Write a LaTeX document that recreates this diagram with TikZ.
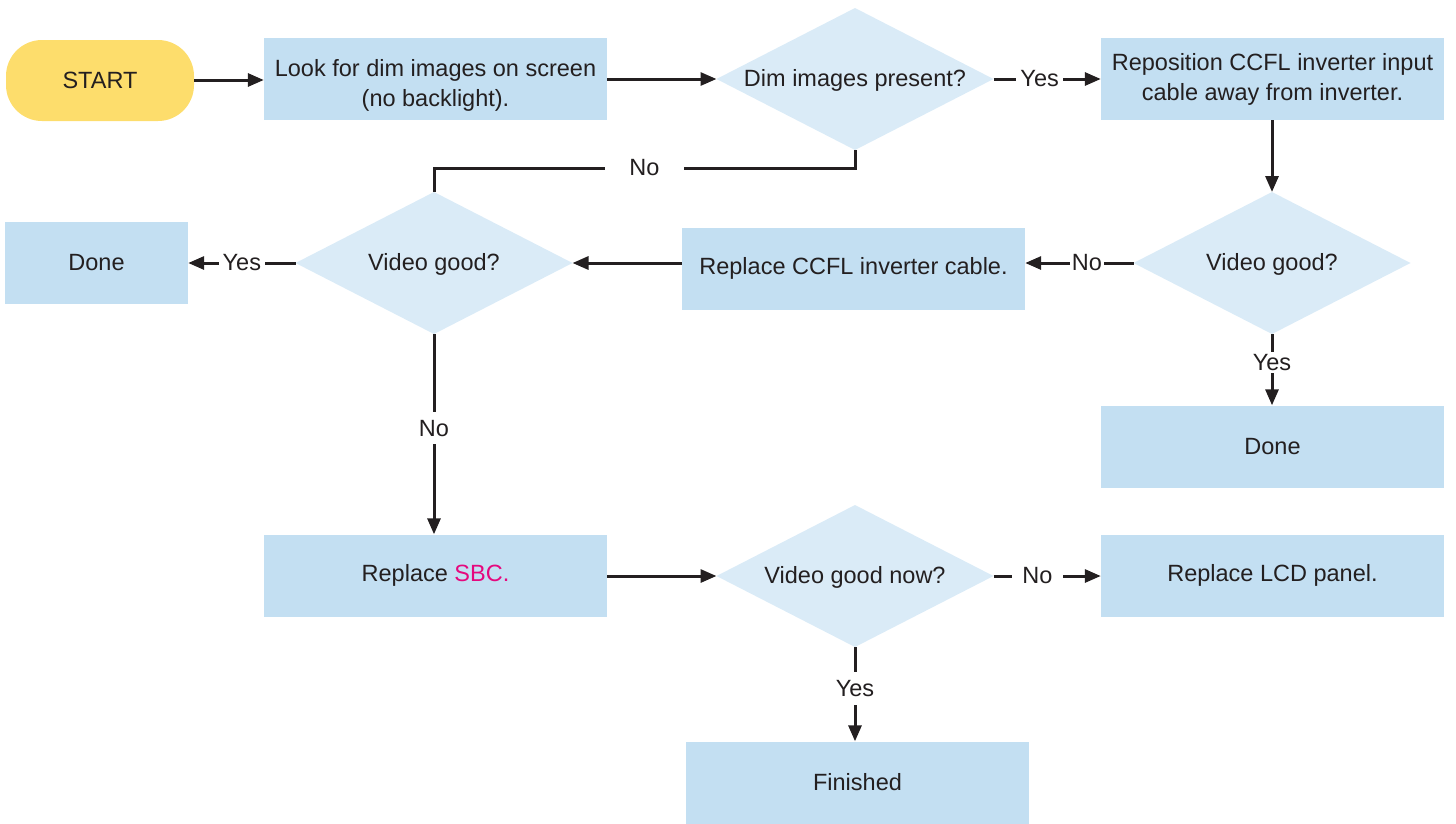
\documentclass[tikz,border=0pt]{standalone}
\usepackage{fontspec}
\setmainfont{Liberation Sans}
\usetikzlibrary{arrows.meta}
\definecolor{boxfill}{HTML}{C3DFF2}
\definecolor{diafill}{HTML}{DAEBF7}
\definecolor{startfill}{HTML}{FDDD6C}
\definecolor{ink}{HTML}{231F20}
\definecolor{sbc}{HTML}{E5087E}
\tikzset{
  txt/.style={font=\fontsize{23.5}{30}\selectfont, text=ink},
  stepbox/.style={txt, fill=boxfill, minimum width=343pt, minimum height=82pt, inner sep=0pt, align=center},
  startbox/.style={txt, fill=startfill, minimum width=188pt, minimum height=81pt, rounded corners=36pt, inner sep=0pt},
  diatext/.style={txt, inner sep=0pt, align=center},
  conn/.style={draw=ink, line width=3pt},
  arr/.style={conn, -{Triangle[length=16pt,width=13pt]}},
  lbl/.style={txt, fill=white, inner sep=4pt},
}
\newcommand{\mydiamond}[4]{%
  \coordinate (#1w) at ({#2-138.5},#3);
  \coordinate (#1e) at ({#2+138.5},#3);
  \coordinate (#1n) at (#2,{#3-71});
  \coordinate (#1s) at (#2,{#3+71});
  \fill[diafill] (#1w) -- (#1n) -- (#1e) -- (#1s) -- cycle;
  \node[diatext] (#1) at (#2,{#3+1.5}) {#4};
}
\begin{document}
\begin{tikzpicture}[x=1pt,y=-1pt]
\useasboundingbox (0,0) rectangle (1456,823);
% nodes
\node[startbox] (start) at (100,80.5) {START};
\node[stepbox, text height=59pt] (look) at (435.5,79) {Look for dim images on screen\\(no backlight).};
\mydiamond{dA}{855}{79}{Dim images present?}
\node[stepbox] (repos) at (1272.5,79) {Reposition CCFL inverter input\\cable away from inverter.};
\mydiamond{dC}{1272}{263}{Video good?}
\node[stepbox] (cable) at (853.5,268.5) {Replace CCFL inverter cable.};
\mydiamond{dB}{434}{263}{Video good?}
\node[stepbox, minimum width=183pt] (doneA) at (96.5,262.5) {Done};
\node[stepbox] (doneB) at (1272.5,446.5) {Done};
\node[stepbox] (sbc) at (435.5,575.5) {Replace \textcolor{sbc}{SBC.}};
\mydiamond{dD}{855}{576}{Video good now?}
\node[stepbox] (lcd) at (1272.5,575.5) {Replace LCD panel.};
\node[stepbox] (fin) at (857.5,782.5) {Finished};
% connectors
\draw[arr] (start.east |- 0,80) -- (look.west |- 0,80);
\draw[arr] (look.east |- dAw) -- (dAw);
\draw[arr] (dAe) -- node[lbl, pos=0.43] {Yes} (repos.west |- dAe);
\draw[arr] (repos.south -| dCn) -- (dCn);
\draw[arr] (dCw) -- node[lbl, pos=0.43, inner xsep=2pt] {No} (cable.east |- dCw);
\draw[arr] (cable.west |- dBe) -- (dBe);
\coordinate (jA) at (855,168);
\coordinate (jB) at (434,168);
\draw[conn] (dAs) -- (jA) -- node[lbl, pos=0.5, inner xsep=24pt] {No} (jB) -- (dBn);
\draw[arr] (dBw) -- node[lbl, pos=0.5] {Yes} (doneA.east |- dBw);
\draw[arr] (dBs) -- node[lbl, pos=0.47, inner ysep=8pt] {No} (sbc.north -| dBs);
\draw[arr] (dCs) -- node[lbl, pos=0.4, inner ysep=2pt] {Yes} (doneB.north -| dCs);
\draw[arr] (sbc.east |- dDw) -- (dDw);
\draw[arr] (dDe) -- node[lbl, pos=0.41, inner xsep=10pt] {No} (lcd.west |- dDe);
\draw[arr] (dDs) -- node[lbl, pos=0.44, inner ysep=8pt] {Yes} (fin.north -| dDs);
\end{tikzpicture}
\end{document}
